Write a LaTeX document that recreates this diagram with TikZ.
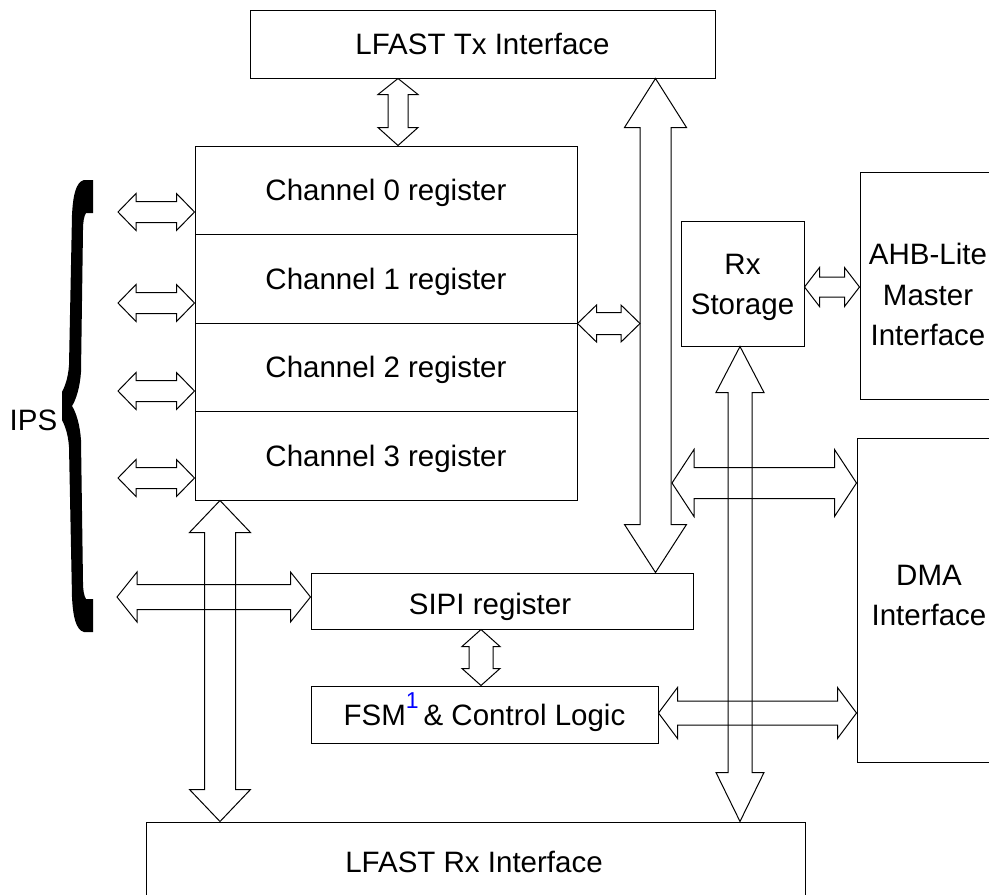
\documentclass[tikz,border=0pt]{standalone}
\usepackage{fontspec}
\setmainfont{Liberation Sans}
\usetikzlibrary{calc}
% vertical block double arrow: #1 top tip, #2 bottom tip, #3 shaft half width, #4 head half width, #5 top head length, #6 bottom head length
\newcommand\VArrow[6]{%
  \draw[blk] let \p1=#1, \p2=#2 in
   (\p1) -- (\x1+#4pt,\y1-#5pt) -- (\x1+#3pt,\y1-#5pt) -- (\x2+#3pt,\y2+#6pt) -- (\x2+#4pt,\y2+#6pt) -- (\p2)
   -- (\x2-#4pt,\y2+#6pt) -- (\x2-#3pt,\y2+#6pt) -- (\x1-#3pt,\y1-#5pt) -- (\x1-#4pt,\y1-#5pt) -- cycle;}
% horizontal block double arrow: #1 left tip, #2 right tip, #3 shaft half, #4 head half, #5 left head length, #6 right head length
\newcommand\HArrow[6]{%
  \draw[blk] let \p1=#1, \p2=#2 in
   (\p1) -- (\x1+#5pt,\y1+#4pt) -- (\x1+#5pt,\y1+#3pt) -- (\x2-#6pt,\y2+#3pt) -- (\x2-#6pt,\y2+#4pt) -- (\p2)
   -- (\x2-#6pt,\y2-#4pt) -- (\x2-#6pt,\y2-#3pt) -- (\x1+#5pt,\y1-#3pt) -- (\x1+#5pt,\y1-#4pt) -- cycle;}
\begin{document}
\begin{tikzpicture}[x=1pt,y=-1pt,
  box/.style={draw=black,line width=1pt,inner sep=0pt,rectangle},
  lbl/.style={font=\fontsize{29.5}{40}\selectfont,inner sep=0pt,text height=21pt,text depth=0pt},
  blk/.style={draw=black,line width=1pt,line join=miter}]
\useasboundingbox (0,0) rectangle (989,895);
\clip (0,0) rectangle (989,895);

% blocks
\node[box,lbl,minimum width=465pt,minimum height=68pt] (tx) at (482.5,44) {LFAST Tx Interface};
\node[box,lbl,minimum width=382pt,minimum height=88.5pt] (chan0) at (386,190.25) {Channel 0 register};
\node[box,lbl,minimum width=382pt,minimum height=88.5pt] (chan1) at (386,278.75) {Channel 1 register};
\node[box,lbl,minimum width=382pt,minimum height=88.5pt] (chan2) at (386,367.25) {Channel 2 register};
\node[box,lbl,minimum width=382pt,minimum height=88.5pt] (chan3) at (386,455.75) {Channel 3 register};
\node[box,minimum width=382pt,minimum height=56pt] (sipi) at (502,601) {};
\node[lbl] (sipit) at (490,604) {SIPI register};
\node[box,lbl,minimum width=347pt,minimum height=57pt] (fsm) at (484.5,714.5)
  {FSM\raisebox{17pt}{\fontsize{23}{23}\selectfont\color{blue}1}\,\& Control Logic};
\node[box,minimum width=123pt,minimum height=125pt] (rxs) at (742.5,283.5) {};
\node[lbl] (rxs1) at (742.5,263.5) {Rx};
\node[lbl] (rxs2) at (742.5,303.5) {Storage};
\node[box,minimum width=200pt,minimum height=227pt] (ahb) at (960,285.5) {};
\node[lbl] (ahb1) at (928,254) {AHB-Lite};
\node[lbl] (ahb2) at (928,295) {Master};
\node[lbl] (ahb3) at (928,335) {Interface};
\node[box,minimum width=200pt,minimum height=324pt] (dma) at (957,600) {};
\node[lbl] (dma1) at (929,575) {DMA};
\node[lbl] (dma2) at (929,615) {Interface};
\node[box,minimum width=659pt,minimum height=128pt] (rx) at (475.5,886) {};
\node[lbl] (rxt) at (474,861.5) {LFAST Rx Interface};
\node[lbl] (ips) at (33.5,420) {IPS};

% brace
\fill[black] (93,180) -- (84,180) .. controls (76,182) and (73,195) .. (72,215) -- (69,365)
  .. controls (68,380) and (64,388) .. (62,392) -- (62,420) .. controls (64,424) and (68,432) .. (69,447)
  -- (72,597) .. controls (73,617) and (76,630) .. (84,632) -- (93,632) -- (93,599) -- (86,599)
  .. controls (84,596) and (83,590) .. (83,582) -- (81,440) .. controls (80,425) and (76,412) .. (72,406)
  .. controls (76,400) and (80,387) .. (81,372) -- (83,230) .. controls (83,222) and (84,216) .. (86,213)
  -- (93,213) -- cycle;

% coordinates
\coordinate (c1) at (398,0);
\coordinate (c2) at (655.5,0);
\coordinate (c3) at (220,0);
\coordinate (c4) at (740,0);
\coordinate (c5) at (481,0);
\coordinate (busL) at (640,0);
\coordinate (ips0) at (118,212);
\coordinate (ips1) at (118,303);
\coordinate (ips2) at (118,391);
\coordinate (ips3) at (118,478);
\coordinate (ipsS) at (117,597);
\coordinate (c8) at (0,287);
\coordinate (busR) at (672,483);
\coordinate (c11) at (0,713);

% vertical arrows
\VArrow{(tx.south -| c1)}{(chan0.north -| c1)}{10}{20}{16}{18}
\VArrow{(tx.south -| c2)}{(sipi.north -| c2)}{15.5}{31}{49}{48}
\VArrow{(chan3.south -| c3)}{(rx.north -| c3)}{15.5}{30.5}{32}{32}
\VArrow{(rxs.south -| c4)}{(rx.north -| c4)}{12}{24}{46}{49}
\VArrow{(sipi.south -| c5)}{(fsm.north -| c5)}{12}{19}{17}{17}

% horizontal arrows
\HArrow{(ips0)}{(chan0.west |- ips0)}{10.5}{18.5}{18}{18}
\HArrow{(ips1)}{(chan1.west |- ips1)}{10.5}{18.5}{18}{18}
\HArrow{(ips2)}{(chan2.west |- ips2)}{10.5}{18.5}{18}{18}
\HArrow{(ips3)}{(chan3.west |- ips3)}{10.5}{18.5}{18}{18}
\HArrow{(chan1.south east)}{(chan1.south east -| busL)}{11}{18.5}{19}{19}
\HArrow{(rxs.east |- c8)}{(ahb.west |- c8)}{10}{19.5}{15}{15}
\HArrow{(ipsS)}{(sipi.west |- ipsS)}{12.5}{25}{20}{20}
\HArrow{(busR)}{(dma.west |- busR)}{15.5}{33.5}{22}{22}
\HArrow{(fsm.east |- c11)}{(dma.west |- c11)}{12}{25.5}{19}{19}
\end{tikzpicture}
\end{document}
